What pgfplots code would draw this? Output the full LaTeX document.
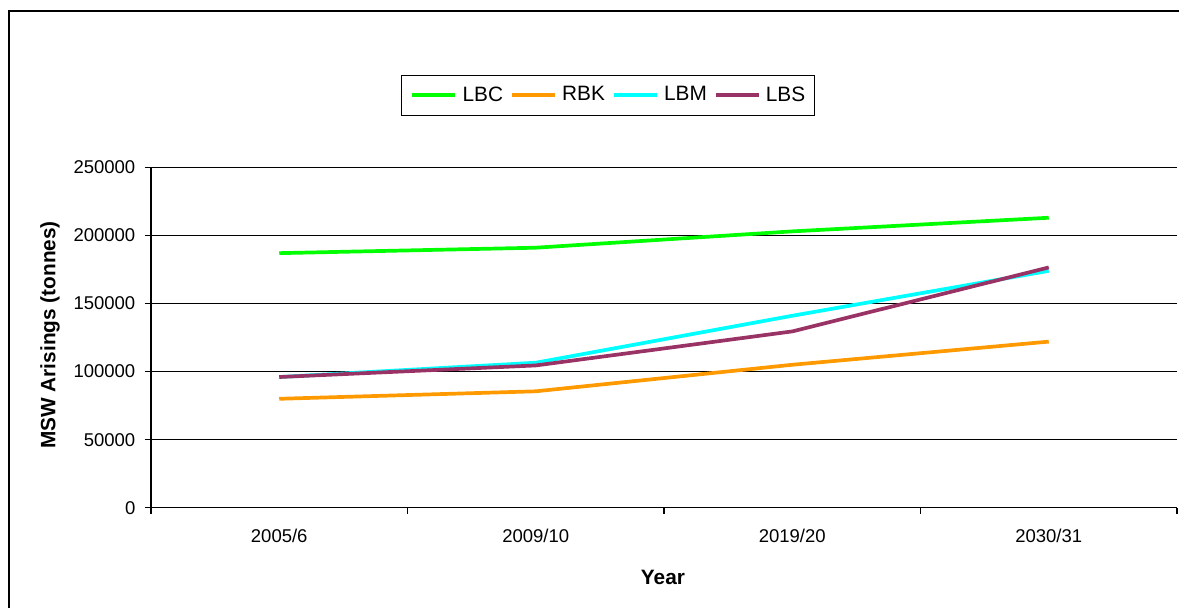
\documentclass[border=0pt]{standalone}
\usepackage{fontspec}
\setmainfont{Liberation Sans}
\usepackage{pgfplots}
\pgfplotsset{compat=1.18}
\definecolor{cLBC}{HTML}{00FF00}
\definecolor{cRBK}{HTML}{FF9900}
\definecolor{cLBM}{HTML}{00FFFF}
\definecolor{cLBS}{HTML}{993366}
\begin{document}
\begin{tikzpicture}
\begin{axis}[
  at={(0pt,0pt)}, anchor=south west,
  scale only axis, width=513pt, height=170.15pt,
  xmin=-0.5, xmax=3.5, ymin=0, ymax=250000,
  xtick={0,1,2,3}, xticklabels={2005/6,2009/10,2019/20,2030/31},
  minor xtick={-0.5,0.5,1.5,2.5,3.5},
  ytick={0,50000,100000,150000,200000,250000},
  scaled y ticks=false,
  /pgf/number format/fixed,
  /pgf/number format/1000 sep={},
  /pgf/number format/assume math mode=true,
  axis lines=left, axis line style={-, line width=0.75pt, black},
  tick align=outside, major tick length=3pt, minor tick length=3pt,
  every tick/.style={black, line width=0.75pt},
  major x tick style={draw=none},
  ymajorgrids, major grid style={black, line width=0.75pt},
  tick label style={font=\fontsize{9.25pt}{11pt}\selectfont},
  yticklabel style={anchor=east, inner sep=0pt, xshift=-4.65pt},
  xticklabel style={anchor=base, inner sep=0pt, yshift=-14.6pt},
  xlabel={Year},
  ylabel={MSW Arisings (tonnes)},
  label style={font=\fontsize{10.4pt}{12pt}\selectfont\bfseries},
  xlabel style={at={(axis description cs:0.499,-0.2036)}, anchor=center, inner sep=0pt},
  ylabel style={at={(axis description cs:-0.0984,0.5075)}, anchor=center, inner sep=0pt},
  legend columns=4,
  legend image code/.code={\draw[#1, line width=1.85pt] (0pt,0pt) -- (21.5pt,0pt);},
  legend style={at={(axis description cs:0.2437,1.2715)}, anchor=north west,
    draw=black, line width=0.5pt, inner xsep=4.5pt, inner ysep=5.5pt,
    font=\fontsize{10.4pt}{12pt}\selectfont,
    nodes={inner sep=0pt},
    column sep=0pt,
    /tikz/every odd column/.append style={column sep=2.7pt},
    /tikz/every even column/.append style={column sep=3.5pt}},
]
\addplot[cLBC, line width=1.85pt] coordinates {(0,187000) (1,191000) (2,203000) (3,213000)};
\addlegendentry{LBC}
\addplot[cRBK, line width=1.85pt] coordinates {(0,80000) (1,85500) (2,105000) (3,122000)};
\addlegendentry{RBK}
\addplot[cLBM, line width=1.85pt] coordinates {(0,96000) (1,106500) (2,141000) (3,174000)};
\addlegendentry{LBM}
\addplot[cLBS, line width=1.85pt] coordinates {(0,96000) (1,104500) (2,129500) (3,176500)};
\addlegendentry{LBS}
\end{axis}
\draw[line width=1pt] (-71pt,-80pt) rectangle (560pt,248.35pt);
\pgfresetboundingbox
\useasboundingbox (-75.5pt,-50.15pt) rectangle (514pt,253.85pt);
\end{tikzpicture}
\end{document}
